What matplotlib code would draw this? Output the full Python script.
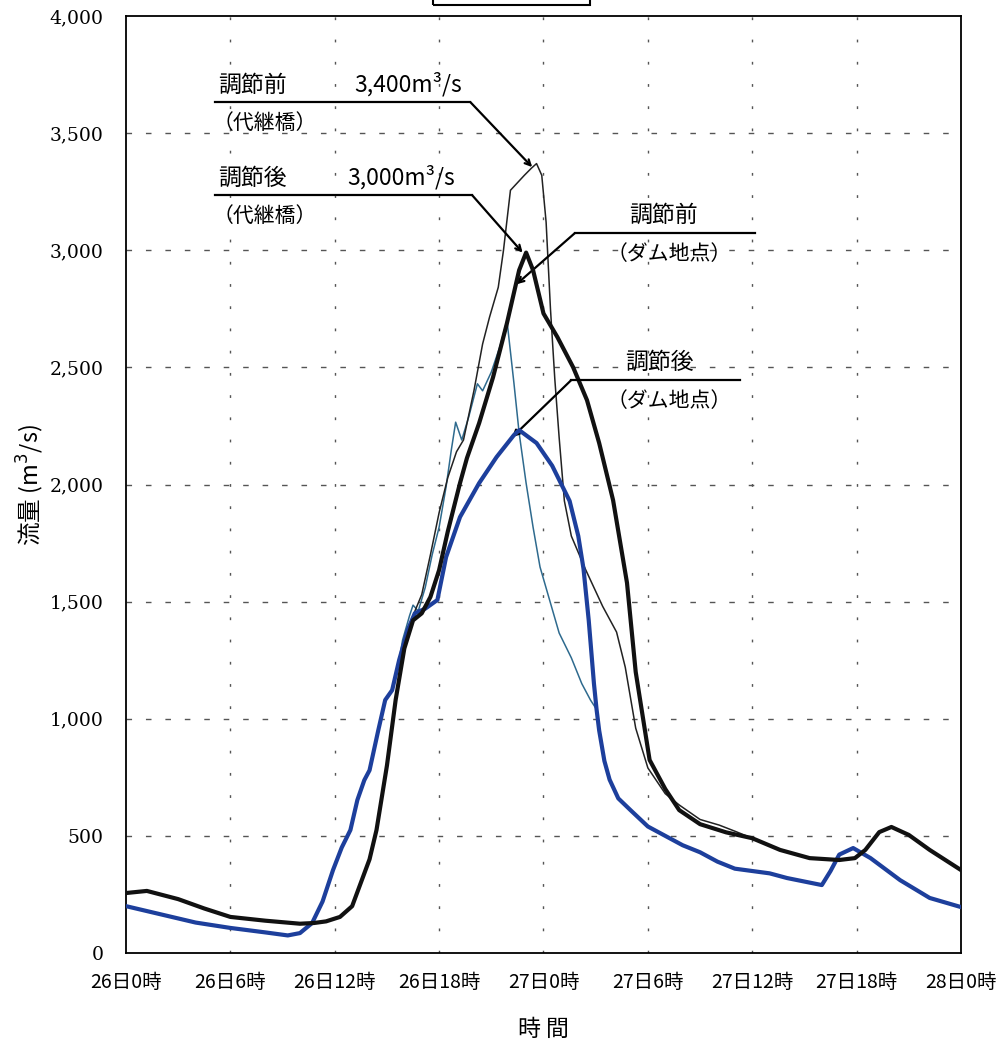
import numpy as np
import matplotlib
matplotlib.use("Agg")
import matplotlib.pyplot as plt
from matplotlib.patches import Rectangle
from matplotlib.ticker import FuncFormatter

plt.rcParams["font.family"] = ["Noto Sans CJK JP", "DejaVu Sans"]

# 調節後（代継橋） 太い黒線
yotsugi_after_h = [0, 1.2, 3, 4.5, 6, 8, 10, 10.8, 11.5, 12.3, 13, 13.5, 14, 14.4, 15, 15.5,
                   16, 16.5, 17, 17.5, 18, 18.5, 19.2, 19.6, 20.3, 21.1, 21.9, 22.6, 23.0,
                   23.4, 24, 24.8, 25.7, 26.5, 27.2, 28, 28.8, 29.3, 30.1, 31, 31.8, 33,
                   34.5, 36, 37.6, 39.3, 41, 41.9, 42.5, 43.3, 44, 45, 46.2, 48]
yotsugi_after_v = [256, 265, 230, 190, 154, 138, 125, 128, 135, 154, 200, 300, 400, 525, 800, 1080,
                   1300, 1420, 1450, 1520, 1635, 1800, 2006, 2113, 2262, 2458, 2689, 2915, 2990,
                   2915, 2730, 2629, 2501, 2360, 2177, 1933, 1580, 1200, 824, 700, 610, 550,
                   515, 490, 440, 405, 397, 405, 440, 516, 538, 504, 440, 354]

# 調節前（代継橋） 細い黒線
yotsugi_before_h = [15.5, 16, 16.5, 17, 17.5, 18, 18.5, 19, 19.4, 20, 20.5, 20.9, 21.4, 21.7,
                    22.1, 22.9, 23.3, 23.6, 23.9, 24.15, 24.4, 24.65, 24.9, 25.2, 25.6, 26.4,
                    27.4, 28.2, 28.7, 29.3, 30.0, 31, 31.8, 33, 34.1, 35, 36]
yotsugi_before_v = [1080, 1330, 1440, 1530, 1700, 1880, 2030, 2140, 2190, 2400, 2600, 2715, 2842, 3000,
                    3256, 3320, 3350, 3370, 3320, 3120, 2750, 2450, 2200, 1930, 1780, 1640,
                    1480, 1370, 1220, 960, 790, 680, 632, 570, 546, 520, 490]

# 調節後（ダム地点） 太い青線
dam_after_h = [0, 2, 4, 6, 8, 9.3, 10, 10.7, 11.3, 11.9, 12.4, 12.9, 13.3, 13.7, 14, 14.5, 14.9,
               15.3, 15.7, 16.2, 16.6, 17.2, 17.9, 18.4, 19.2, 20.3, 21.3, 22.3, 22.6, 23.6,
               24.5, 25.5, 26.0, 26.3, 26.6, 26.9, 27.05, 27.2, 27.5, 27.8, 28.3, 29, 30, 31,
               32, 33, 34, 35, 36, 37, 38, 39, 40, 40.5, 41, 41.8, 42.8, 44.5, 46.2, 48]
dam_after_v = [200, 165, 130, 107, 88, 75, 85, 128, 220, 354, 450, 525, 653, 738, 780, 950, 1080,
               1122, 1250, 1380, 1450, 1470, 1507, 1690, 1861, 2006, 2117, 2211, 2232, 2177,
               2080, 1930, 1780, 1640, 1420, 1150, 1040, 950, 820, 740, 660, 610, 540, 500,
               460, 430, 390, 360, 350, 340, 320, 305, 290, 350, 420, 448, 405, 311, 235, 196]

# 調節前（ダム地点） 細い青線
dam_before_h = [15.7, 15.9, 16.3, 16.5, 16.8, 17.2, 17.6, 18.0, 18.4, 18.7, 18.95, 19.3, 19.7,
                20.2, 20.5, 21.0, 21.5, 21.9, 22.3, 22.6, 23.0, 23.4, 23.8, 24.4, 24.9, 25.6,
                26.2, 26.7, 27.05]
dam_before_v = [1250, 1336, 1440, 1485, 1460, 1560, 1700, 1818, 1990, 2147, 2266, 2190, 2288,
                2430, 2400, 2480, 2590, 2700, 2433, 2220, 2006, 1818, 1648, 1494, 1366, 1260,
                1150, 1080, 1040]

x_ticks = [0, 6, 12, 18, 24, 30, 36, 42, 48]
x_labels = ["26日0時", "26日6時", "26日12時", "26日18時", "27日0時",
            "27日6時", "27日12時", "27日18時", "28日0時"]
y_ticks = [0, 500, 1000, 1500, 2000, 2500, 3000, 3500, 4000]

W, H = 1006, 1046
fig = plt.figure(figsize=(W / 100, H / 100), dpi=100)
ax = fig.add_axes([126 / W, 1 - 953 / H, (961 - 126) / W, (953 - 16) / H])

# グリッド（破線）
for yv in y_ticks[1:-1]:
    ax.axhline(yv, color="#555555", lw=1.0, ls=(0, (4, 10)), zorder=1)
for xv in x_ticks[1:-1]:
    ax.axvline(xv, color="#555555", lw=1.0, ls=(0, (2, 14)), zorder=1)

ax.plot(dam_before_h, dam_before_v, color="#2e6a8e", lw=1.1, zorder=3)
ax.plot(yotsugi_before_h, yotsugi_before_v, color="#222222", lw=1.1, zorder=3)
ax.plot(dam_after_h, dam_after_v, color="#1d3f9c", lw=3.0, zorder=4, solid_joinstyle="round")
ax.plot(yotsugi_after_h, yotsugi_after_v, color="#111111", lw=3.0, zorder=5, solid_joinstyle="round")

ax.set_xlim(0, 48)
ax.set_ylim(0, 4000)
ax.set_xticks(x_ticks)
ax.set_xticklabels(x_labels, fontsize=14)
ax.set_yticks(y_ticks)
ax.yaxis.set_major_formatter(FuncFormatter(lambda v, _: f"{int(v):,}"))
for lab in ax.get_yticklabels():
    lab.set_family("DejaVu Serif")
    lab.set_fontsize(13.5)
ax.tick_params(axis="both", length=0)
ax.tick_params(axis="x", pad=14)
ax.tick_params(axis="y", pad=16)
for sp in ax.spines.values():
    sp.set_linewidth(1.3)

ax.set_xlabel("時 間", fontsize=16.5, labelpad=18)
fig.text(30 / W, 1 - 485 / H, "流量 (m$^3$/s)", fontsize=17, rotation=90,
         ha="center", va="center")


def callout(label1, label2, value, x0, x1, yline, tip, text_x, val_x):
    ax.plot([x0, x1], [yline, yline], color="black", lw=1.6, clip_on=False, zorder=6)
    ax.annotate("", xy=tip, xytext=(x1, yline),
                arrowprops=dict(arrowstyle="->", lw=1.6, color="black",
                                shrinkA=0, shrinkB=0), zorder=6)
    ax.text(text_x, yline + 25, label1, fontsize=16.5, ha="left", va="bottom")
    ax.text(text_x - 0.3, yline - 40, label2, fontsize=15, ha="left", va="top")
    ax.text(val_x, yline + 25, value, fontsize=16.5, ha="left", va="bottom")


callout("調節前", "（代継橋）", "3,400m³/s", 5.1, 19.8, 3632, (23.35, 3355), 5.3, 13.1)
callout("調節後", "（代継橋）", "3,000m³/s", 5.1, 19.9, 3235, (22.8, 2990), 5.3, 12.7)

# ダム地点
ax.plot([25.8, 36.15], [3073, 3073], color="black", lw=1.6, zorder=6)
ax.annotate("", xy=(22.45, 2855), xytext=(25.8, 3073),
            arrowprops=dict(arrowstyle="->", lw=1.6, color="black", shrinkA=0, shrinkB=0))
ax.text(28.9, 3098, "調節前", fontsize=16.5, ha="left", va="bottom")
ax.text(27.6, 3030, "（ダム地点）", fontsize=15, ha="left", va="top")

ax.plot([25.6, 35.3], [2446, 2446], color="black", lw=1.6, zorder=6)
ax.annotate("", xy=(22.2, 2202), xytext=(25.6, 2446),
            arrowprops=dict(arrowstyle="->", lw=1.6, color="black", shrinkA=0, shrinkB=0))
ax.text(28.7, 2471, "調節後", fontsize=16.5, ha="left", va="bottom")
ax.text(27.6, 2405, "（ダム地点）", fontsize=15, ha="left", va="top")

# 上部の枠
fig.add_artist(Rectangle((433 / W, 1 - 5 / H), (590 - 433) / W, 0.02, fill=False,
                         lw=1.5, edgecolor="black", transform=fig.transFigure, clip_on=False))

fig.savefig("out.png", dpi=100)
